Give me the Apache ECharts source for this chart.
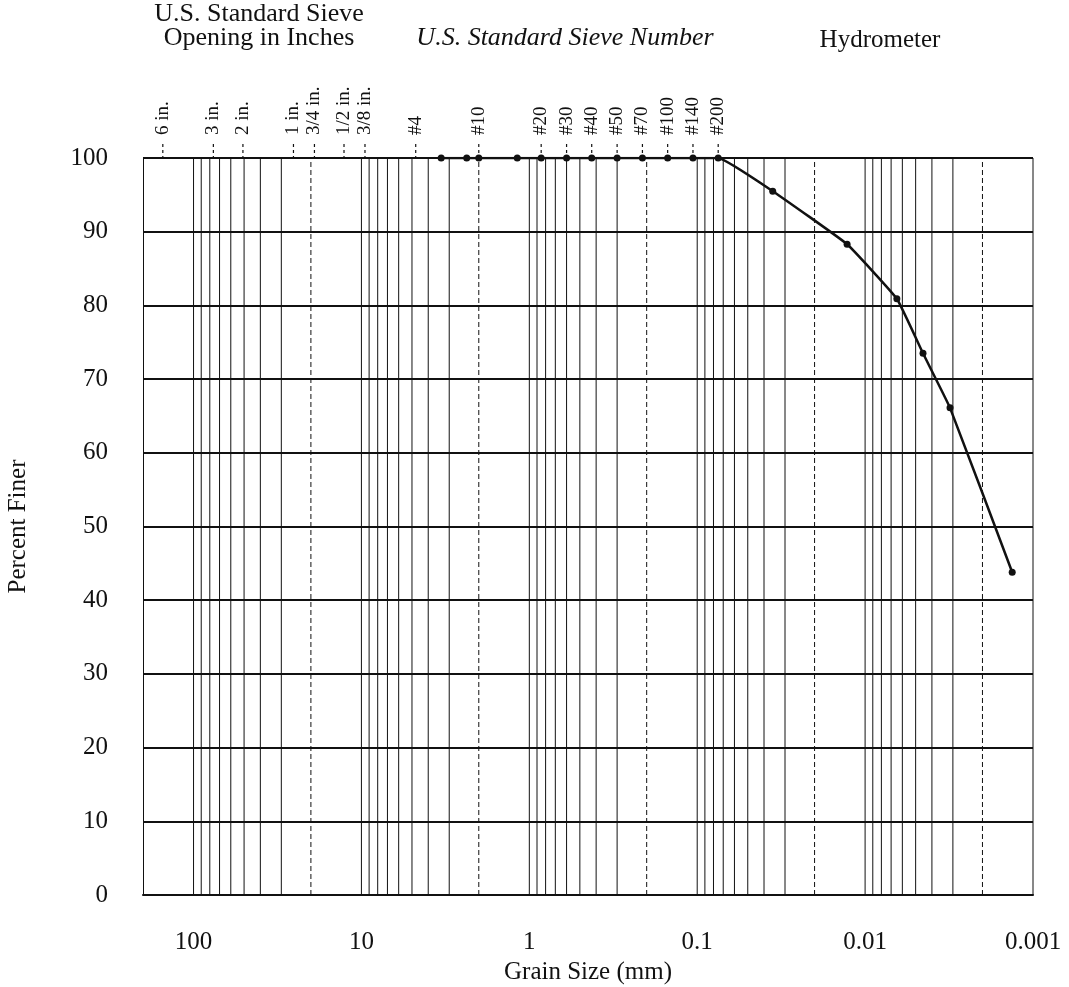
<!DOCTYPE html>
<html>
<head>
<meta charset="utf-8">
<script src="https://cdn.jsdelivr.net/npm/echarts@6/dist/echarts.min.js"></script>
<style>
  html, body { margin: 0; padding: 0; background: #fff; }
  #chart-container { width: 1069px; height: 987px; }
</style>
</head>
<body>
<div id="chart-container"></div>
<script>
// grain size (mm) and percent finer, sieve part then hydrometer part
var grainSize = [3.35, 2.36, 2.0, 1.18, 0.85, 0.6, 0.425, 0.3, 0.212, 0.15, 0.106, 0.075,
                 0.0355, 0.0128, 0.00647, 0.00452, 0.00312, 0.00133];
var percentFiner = [100, 100, 100, 100, 100, 100, 100, 100, 100, 100, 100, 100,
                    95.5, 88.3, 80.9, 73.5, 66.1, 43.8];

// sieve marks on top of the chart
var sieveLabels = ['6 in.', '3 in.', '2 in.', '1 in.', '3/4 in.', '1/2 in.', '3/8 in.', '#4',
                   '#10', '#20', '#30', '#40', '#50', '#70', '#100', '#140', '#200'];
var sieveSizes = [152.4, 76.2, 50.8, 25.4, 19.05, 12.7, 9.525, 4.75,
                  2.0, 0.85, 0.6, 0.425, 0.3, 0.212, 0.15, 0.106, 0.075];

// vertical log grid lines
var gridSolid = [100, 90, 80, 70, 60, 50, 40, 30,
                 10, 9, 8, 7, 6, 5, 4, 3,
                 1, 0.9, 0.8, 0.7, 0.6, 0.5, 0.4, 0.3,
                 0.1, 0.09, 0.08, 0.07, 0.06, 0.05, 0.04, 0.03,
                 0.01, 0.009, 0.008, 0.007, 0.006, 0.005, 0.004, 0.003, 0.001];
var gridDashed = [20, 2, 0.2, 0.02, 0.002];

var xTickLabels = ['100', '10', '1', '0.1', '0.01', '0.001'];

var serif = '"Liberation Serif", "DejaVu Serif", serif';

var myChart = echarts.init(document.getElementById('chart-container'));

function vLines(dashed) {
    return function (params, api) {
        var v = api.value(0);
        var a = api.coord([v, 0]);
        var b = api.coord([v, 100]);
        return {
            type: 'line',
            shape: { x1: a[0], y1: a[1], x2: b[0], y2: b[1] },
            style: { stroke: '#111', lineWidth: 1, lineDash: dashed ? [5, 3] : null }
        };
    };
}

var option = {
    animation: false,
    backgroundColor: '#fff',
    grid: { left: 143, right: 36, top: 158, bottom: 92, outerBoundsMode: 'none' },
    graphic: [
        { type: 'text', x: 259, y: 2, style: { text: 'U.S. Standard Sieve\nOpening in Inches', font: '26px ' + serif, fill: '#111', textAlign: 'center', lineHeight: 24 } },
        { type: 'text', x: 565, y: 26, style: { text: 'U.S. Standard Sieve Number', font: 'italic 26px ' + serif, fill: '#111', textAlign: 'center', lineHeight: 24 } },
        { type: 'text', x: 880, y: 28, style: { text: 'Hydrometer', font: '25px ' + serif, fill: '#111', textAlign: 'center', lineHeight: 24 } }
    ],
    xAxis: {
        type: 'log',
        logBase: 10,
        min: 0.001,
        max: 200,
        inverse: true,
        name: 'Grain Size (mm)',
        nameLocation: 'middle',
        nameGap: 64,
        nameTextStyle: { fontFamily: serif, fontSize: 25, color: '#111' },
        axisLine: { show: true, lineStyle: { color: '#111', width: 2 } },
        axisTick: { show: false },
        splitLine: { show: false },
        axisLabel: {
            margin: 35,
            fontFamily: serif,
            fontSize: 25,
            color: '#111',
            showMaxLabel: false,
            formatter: function (v) {
                var s = String(+v.toPrecision(3));
                return xTickLabels.indexOf(s) >= 0 ? s : '';
            }
        }
    },
    yAxis: {
        type: 'value',
        min: 0,
        max: 100,
        interval: 10,
        name: 'Percent Finer',
        nameLocation: 'middle',
        nameGap: 112,
        nameTextStyle: { fontFamily: serif, fontSize: 25, color: '#111' },
        axisLine: { show: true, lineStyle: { color: '#111', width: 1 } },
        axisTick: { show: false },
        splitLine: { show: true, lineStyle: { color: '#111', width: 2 } },
        axisLabel: { margin: 35, fontFamily: serif, fontSize: 25, color: '#111' }
    },
    series: [
        {
            type: 'custom',
            clip: false,
            silent: true,
            renderItem: vLines(false),
            data: gridSolid.map(function (v) { return [v]; }),
            encode: { x: 0 },
            z: 1
        },
        {
            type: 'custom',
            clip: false,
            silent: true,
            renderItem: vLines(true),
            data: gridDashed.map(function (v) { return [v]; }),
            encode: { x: 0 },
            z: 1
        },
        {
            // sieve ticks + rotated labels above the chart
            type: 'custom',
            clip: false,
            silent: true,
            renderItem: function (params, api) {
                var p = api.coord([api.value(0), 100]);
                return {
                    type: 'group',
                    children: [
                        {
                            type: 'line',
                            shape: { x1: p[0], y1: p[1] - 14, x2: p[0], y2: p[1] },
                            style: { stroke: '#111', lineWidth: 1.2, lineDash: [3, 3] }
                        },
                        {
                            type: 'text',
                            x: p[0],
                            y: p[1] - 23,
                            rotation: Math.PI / 2,
                            style: {
                                text: sieveLabels[params.dataIndex],
                                font: '19px ' + serif,
                                fill: '#111',
                                textAlign: 'left',
                                textVerticalAlign: 'middle'
                            }
                        }
                    ]
                };
            },
            data: sieveSizes.map(function (v) { return [v]; }),
            encode: { x: 0 },
            z: 3
        },
        {
            type: 'line',
            data: grainSize.map(function (g, i) { return [g, percentFiner[i]]; }),
            smooth: 0.1,
            symbol: 'circle',
            symbolSize: 7,
            showAllSymbol: true,
            lineStyle: { color: '#111', width: 2.5 },
            itemStyle: { color: '#111' },
            z: 5
        }
    ]
};

myChart.setOption(option);
</script>
</body>
</html>
